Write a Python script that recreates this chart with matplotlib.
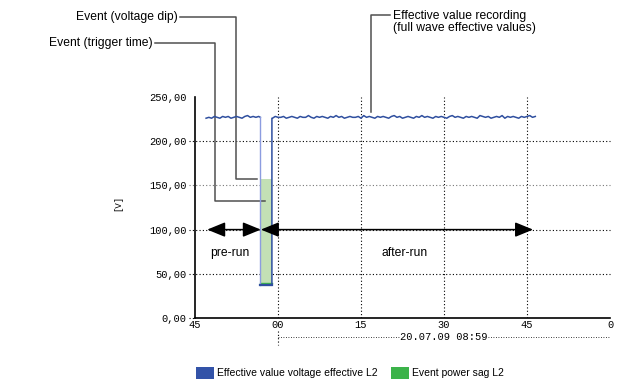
import numpy as np
import matplotlib
matplotlib.use("Agg")
from matplotlib import pyplot as plt
from matplotlib.patches import Patch

# x values are seconds relative to the trigger (00)
x_ticks = [-15, 0, 15, 30, 45, 60]
x_tick_labels = ['45', '00', '15', '30', '45', '0']
y_ticks = [0, 50, 100, 150, 200, 250]
y_tick_labels = ['0,00', '50,00', '100,00', '150,00', '200,00', '250,00']
date_label = '20.07.09 08:59'

# RMS trace before the dip (0.5 s steps)
pre_t = np.arange(-13.0, -3.49, 0.5)
pre_v = [226, 227, 226, 228, 227, 226, 228, 227, 228, 226,
         227, 228, 227, 226, 228, 229, 227, 228, 227, 228]

# the dip itself
dip_start = -3.2
dip_end = -1.1
dip_level = 37
level_before = 227

# RMS trace after the dip (0.5 s steps)
post_t = np.arange(-1.0, 46.51, 0.5)
post_v = [226, 228, 227, 227, 228, 226, 227, 228, 227, 226,
          228, 227, 227, 229, 227, 226, 228, 227, 228, 227,
          226, 228, 227, 229, 227, 228, 226, 227, 228, 227,
          227, 228, 226, 229, 227, 228, 227, 226, 228, 227,
          228, 227, 226, 228, 229, 227, 228, 226, 227, 228,
          227, 226, 228, 227, 229, 227, 228, 227, 226, 228,
          227, 228, 227, 226, 228, 229, 227, 228, 227, 226,
          228, 227, 228, 227, 226, 229, 228, 227, 228, 226,
          227, 228, 227, 229, 226, 228, 227, 228, 227, 226,
          228, 227, 228, 229, 227, 228]

# power sag event box
event_low = 38
event_high = 157
event_sag = 40

# pre-run / after-run spans
prerun_span = (-12.8, -3.1)
afterrun_span = (-3.1, 46.1)
span_level = 100

blue = '#2f4f9f'
light_blue = '#8c9ce0'
green = '#3cb34a'
light_green = '#c3e0b5'
gray = '#505050'

fig = plt.figure(figsize=(6.22, 3.9), dpi=100)
ax = fig.add_axes([195 / 622, 72 / 390, 415 / 622, 221 / 390])
ax.set_xlim(-15, 60)
ax.set_ylim(0, 250)

for s in ['top', 'right']:
    ax.spines[s].set_visible(False)
ax.spines['left'].set_linewidth(1.2)
ax.spines['bottom'].set_linewidth(1.2)

mono = 'Liberation Mono'
sans = 'Liberation Sans'

ax.set_xticks(x_ticks)
ax.set_xticklabels(x_tick_labels, family=mono, fontsize=7.5)
ax.set_yticks(y_ticks)
ax.set_yticklabels(y_tick_labels, family=mono, fontsize=7.5)
ax.tick_params(length=0)
ax.tick_params(axis='y', pad=6)
ax.tick_params(axis='x', pad=1.5)

# dotted grid
dots = (0, (1, 2))
for y in [50, 100, 150, 200]:
    ax.axhline(y, xmin=-0.015, xmax=1.0, ls=dots, lw=0.8,
               color='#777777' if y == 150 else 'black', clip_on=False, zorder=1)
ax.axhline(0, xmin=-0.015, xmax=0, ls=dots, lw=0.8, color='black', clip_on=False)
for x in [15, 30, 45]:
    ax.axvline(x, ls=dots, lw=0.8, color='black', zorder=1)
ax.plot([0, 0], [0, 250], ls=dots, lw=0.8, color='black', zorder=1)
ax.plot([0, 0], [-15, -30], ls=dots, lw=0.8, color='black', clip_on=False, zorder=1)

# date row below the ticks
ax.plot([0, 60], [-22, -22], ls=dots, lw=0.6, color='black', clip_on=False)
ax.text(30, -22, date_label, family=mono, fontsize=7.5, ha='center', va='center',
        bbox=dict(facecolor='white', edgecolor='none', pad=0.3), clip_on=False)

ax.text(-29, 130, '[V]', family=mono, fontsize=6.5, rotation=90,
        ha='center', va='center', clip_on=False)

# event box
ax.fill_between([dip_start, dip_end], event_low, event_high, color=light_green, lw=0, zorder=2)
ax.plot([dip_start, dip_end], [event_sag, event_sag], color=green, lw=1.0, zorder=3)

# voltage trace
ax.plot(list(pre_t) + [dip_start], pre_v + [level_before], color=blue, lw=1.1, zorder=4)
ax.plot([dip_start, dip_start], [level_before, dip_level], color=light_blue, lw=1.0, zorder=4)
ax.plot([dip_start, dip_end, dip_end] + list(post_t),
        [dip_level, dip_level, post_v[0]] + post_v, color=blue, lw=1.1, zorder=4)
ax.plot([dip_start, dip_end], [dip_level, dip_level], color=blue, lw=1.6, zorder=4)

# run arrows
arrow = dict(arrowstyle='<|-|>,head_length=1.1,head_width=0.45', color='black',
             lw=1.1, mutation_scale=10, shrinkA=0, shrinkB=0)
ax.annotate('', xy=(prerun_span[0], span_level), xytext=(prerun_span[1], span_level),
            arrowprops=arrow, zorder=5)
ax.annotate('', xy=(afterrun_span[0], span_level), xytext=(afterrun_span[1], span_level),
            arrowprops=arrow, zorder=5)
ax.text(-8.8, 73, 'pre-run', family=sans, fontsize=8.7, ha='center', va='center')
ax.text(22.8, 73, 'after-run', family=sans, fontsize=8.7, ha='center', va='center')

# callouts
ax.plot([-17.7, -7.6, -7.6, -3.8], [340.5, 340.5, 157, 157], color=gray, lw=1.1,
        clip_on=False, zorder=3)
ax.text(-18.2, 340.5, 'Event (voltage dip)', family=sans, fontsize=8.7,
        ha='right', va='center', clip_on=False)
ax.plot([-22.2, -11.4, -11.4, -2.35], [311, 311, 132, 132], color=gray, lw=1.1,
        clip_on=False, zorder=3)
ax.text(-22.7, 311, 'Event (trigger time)', family=sans, fontsize=8.7,
        ha='right', va='center', clip_on=False)
ax.plot([20.2, 16.8, 16.8], [342.8, 342.8, 233], color=gray, lw=1.1,
        clip_on=False, zorder=3)
ax.text(20.8, 335, 'Effective value recording\n(full wave effective values)',
        family=sans, fontsize=8.7, ha='left', va='center', linespacing=1.05,
        clip_on=False)

handles = [Patch(facecolor='#3353a8', edgecolor='none', label='Effective value voltage effective L2'),
           Patch(facecolor=green, edgecolor='none', label='Event power sag L2')]
fig.legend(handles=handles, loc='center', bbox_to_anchor=(350 / 622, 1 - 373 / 390),
           ncol=2, frameon=False, prop={'family': sans, 'size': 7.5},
           handlelength=1.8, handleheight=1.4, handletextpad=0.3, columnspacing=1.2)

fig.savefig('out.png', dpi=100)
